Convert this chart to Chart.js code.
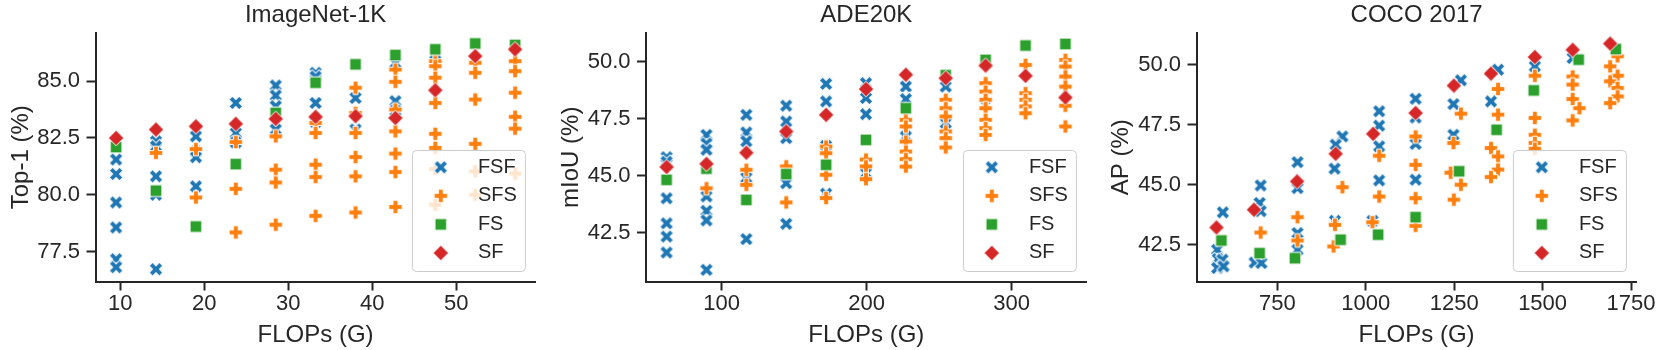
<!DOCTYPE html>
<html>
<head>
<meta charset="utf-8">
<script src="https://cdn.jsdelivr.net/npm/chart.js@4.4.0/dist/chart.umd.min.js"></script>
<style>
  html, body { margin: 0; padding: 0; background: #fff; }
  #wrap { position: relative; width: 1661px; height: 350px; }
  canvas { position: absolute; top: 0; }
</style>
</head>
<body>
<div id="wrap">
  <canvas id="c1" width="550" height="350" style="left:0px"></canvas>
  <canvas id="c2" width="550" height="350" style="left:550px"></canvas>
  <canvas id="c3" width="561" height="350" style="left:1100px"></canvas>
</div>
<script>
const series = ["FSF", "SFS", "FS", "SF"];
const colors = ["#1f77b4", "#ff7f0e", "#2ca02c", "#d62728"];

// ImageNet-1K: [FLOPs (G), Top-1 (%)]
const inetFSF = [
  [9.5, 81.55], [9.5, 80.91], [9.5, 79.66], [9.5, 78.56], [9.5, 77.16], [9.5, 76.81],
  [14.25, 82.35], [14.25, 82.13], [14.25, 80.81], [14.25, 80.0], [14.25, 76.72],
  [19, 82.57], [19, 81.9], [19, 81.65], [19, 80.37],
  [23.75, 84.04], [23.75, 82.72], [23.75, 82.3],
  [28.5, 84.81], [28.5, 84.37], [28.5, 83.9], [28.5, 82.87],
  [33.25, 85.37], [33.25, 85.2], [33.25, 84.04], [33.25, 83.2],
  [38, 84.26], [38, 82.87],
  [42.75, 85.8], [42.75, 84.12], [42.75, 83.7],
  [47.5, 85.9]
];
const inetSFS = [
  [14.25, 81.84],
  [19, 82.01], [19, 79.88],
  [23.75, 82.32], [23.75, 80.26], [23.75, 78.34],
  [28.5, 82.57], [28.5, 81.1], [28.5, 80.54], [28.5, 78.68],
  [33.25, 83.16], [33.25, 82.72], [33.25, 81.32], [33.25, 80.78], [33.25, 79.07],
  [38, 84.71], [38, 83.6], [38, 82.72], [38, 81.66], [38, 80.81], [38, 79.22],
  [42.75, 85.51], [42.75, 84.97], [42.75, 83.75], [42.75, 82.79], [42.75, 81.81], [42.75, 81.0], [42.75, 79.46],
  [47.5, 85.88], [47.5, 85.66], [47.5, 85.15], [47.5, 84.04], [47.5, 82.68], [47.5, 82.06], [47.5, 81.13], [47.5, 79.56],
  [52.25, 85.81], [52.25, 85.37], [52.25, 84.19], [52.25, 82.24], [52.25, 81.03], [52.25, 80.0],
  [57, 85.88], [57, 85.44], [57, 84.49], [57, 83.43], [57, 82.91], [57, 80.93]
];
const inetFS = [
  [9.5, 82.1], [14.25, 80.18], [19, 78.6], [23.75, 81.35], [28.5, 83.6], [33.25, 84.93],
  [38, 85.74], [42.75, 86.15], [47.5, 86.4], [52.25, 86.66], [57, 86.59]
];
const inetSF = [
  [9.5, 82.5], [14.25, 82.87], [19, 83.01], [23.75, 83.12], [28.5, 83.34], [33.25, 83.43],
  [38, 83.46], [42.75, 83.38], [47.5, 84.6], [52.25, 86.1], [57, 86.4]
];

// ADE20K: [FLOPs (G), mIoU (%)]
const adeFSF = [
  [62, 45.8], [62, 45.6], [62, 44.0], [62, 42.9], [62, 42.32], [62, 41.62],
  [89.5, 46.78], [89.5, 46.4], [89.5, 46.13], [89.5, 44.08], [89.5, 43.45], [89.5, 43.03], [89.5, 40.86],
  [117, 47.66], [117, 46.89], [117, 46.5], [117, 44.9], [117, 42.21],
  [144.5, 48.06], [144.5, 47.37], [144.5, 46.64], [144.5, 44.66], [144.5, 42.88],
  [172, 49.02], [172, 48.25], [172, 46.3], [172, 44.2],
  [199.5, 49.05], [199.5, 48.4], [199.5, 47.69], [199.5, 45.1],
  [227, 48.9], [227, 48.35], [227, 46.71],
  [254.5, 48.9], [254.5, 47.3],
  [282, 48.1]
];
const adeSFS = [
  [89.5, 44.44],
  [117, 45.25], [117, 44.59],
  [144.5, 45.4], [144.5, 43.82],
  [172, 46.27], [172, 45.98], [172, 45.03], [172, 44.01],
  [199.5, 45.7], [199.5, 45.4], [199.5, 44.84],
  [227, 47.44], [227, 47.15], [227, 46.49], [227, 46.05], [227, 45.72], [227, 45.39],
  [254.5, 48.32], [254.5, 47.95], [254.5, 47.59], [254.5, 46.93], [254.5, 46.64], [254.5, 46.23],
  [282, 49.05], [282, 48.68], [282, 48.32], [282, 47.95], [282, 47.44], [282, 47.08], [282, 46.78],
  [309.5, 49.85], [309.5, 48.61], [309.5, 48.32], [309.5, 48.03], [309.5, 47.73],
  [337, 50.07], [337, 49.78], [337, 49.34], [337, 48.9], [337, 48.06], [337, 47.15]
];
const adeFS = [
  [62, 44.81], [89.5, 45.3], [117, 43.93], [144.5, 45.06], [172, 45.47], [199.5, 46.56],
  [227, 47.95], [254.5, 49.4], [282, 50.07], [309.5, 50.7], [337, 50.77]
];
const adeSF = [
  [62, 45.37], [89.5, 45.51], [117, 46.0], [144.5, 46.93], [172, 47.66], [199.5, 48.79],
  [227, 49.42], [254.5, 49.27], [282, 49.82], [309.5, 49.37], [337, 48.42]
];

// COCO 2017: [FLOPs (G), AP (%)]
const cocoFSF = [
  [596, 43.85], [580, 42.29], [582, 41.9], [595, 41.88], [580, 41.53], [598, 41.6],
  [703, 44.97], [700, 44.24], [703, 43.9], [686, 41.76], [705, 41.74],
  [807, 45.94], [807, 44.86], [807, 42.99], [807, 42.29],
  [934, 47.01], [915, 46.67], [912, 45.67], [913, 43.5],
  [1038, 48.06], [1038, 47.46], [1038, 46.6], [1038, 45.18], [1019, 43.5],
  [1141, 48.58], [1141, 47.8], [1141, 46.7], [1141, 45.21],
  [1269, 49.35], [1248, 48.36], [1248, 47.08],
  [1374, 49.79], [1354, 48.47],
  [1478, 49.93],
  [1585, 50.28]
];
const cocoSFS = [
  [703, 43.01],
  [807, 43.65], [807, 42.68],
  [934, 44.9], [913, 43.33], [909, 42.43],
  [1038, 46.21], [1038, 44.51], [1019, 43.44],
  [1141, 47.01], [1141, 45.83], [1141, 44.44], [1141, 43.29],
  [1269, 47.96], [1248, 46.74], [1240, 45.5], [1269, 45.0], [1249, 44.38],
  [1374, 48.99], [1374, 47.92], [1354, 46.53], [1374, 46.18], [1374, 45.63], [1354, 45.32],
  [1478, 49.54], [1478, 47.78], [1478, 47.08], [1478, 46.74], [1478, 46.5],
  [1585, 49.51], [1585, 49.17], [1585, 48.57], [1604, 48.19], [1585, 47.68],
  [1712, 50.35], [1691, 49.93], [1712, 49.54], [1691, 49.31], [1712, 49.03], [1712, 48.68], [1691, 48.4]
];
const cocoFS = [
  [592, 42.68], [700, 42.15], [800, 41.94], [929, 42.71], [1035, 42.92], [1141, 43.65],
  [1264, 45.56], [1370, 47.29], [1475, 48.93], [1602, 50.21], [1707, 50.65]
];
const cocoSF = [
  [578, 43.22], [684, 43.96], [806, 45.14], [915, 46.29], [1021, 47.12], [1141, 47.99],
  [1249, 49.13], [1354, 49.63], [1478, 50.32], [1585, 50.62], [1691, 50.88]
];

// tick labels
const inetXTicks = [10, 20, 30, 40, 50];
const inetYTicks = [77.5, 80.0, 82.5, 85.0];
const adeXTicks = [100, 200, 300];
const adeYTicks = [42.5, 45.0, 47.5, 50.0];
const cocoXTicks = [750, 1000, 1250, 1500, 1750];
const cocoYTicks = [42.5, 45.0, 47.5, 50.0];

const FONT = "'Liberation Sans', Arial, sans-serif";
const INK = "#262626";

// filled marker shapes with a white edge, like seaborn's X / P / s / D
function makeMarker(shape, color) {
  const c = document.createElement("canvas");
  c.width = 20;
  c.height = 20;
  const g = c.getContext("2d");
  g.translate(10, 10);
  g.beginPath();
  if (shape === "x" || shape === "plus") {
    const a = shape === "x" ? 7.3 : 6.8;
    const t = shape === "x" ? 2.45 : 2.4;
    if (shape === "x") g.rotate(Math.PI / 4);
    g.moveTo(-t, -a); g.lineTo(t, -a); g.lineTo(t, -t); g.lineTo(a, -t);
    g.lineTo(a, t); g.lineTo(t, t); g.lineTo(t, a); g.lineTo(-t, a);
    g.lineTo(-t, t); g.lineTo(-a, t); g.lineTo(-a, -t); g.lineTo(-t, -t);
    g.closePath();
  } else if (shape === "square") {
    g.rect(-5.9, -5.9, 11.8, 11.8);
  } else {
    g.moveTo(0, -7.7); g.lineTo(7.7, 0); g.lineTo(0, 7.7); g.lineTo(-7.7, 0);
    g.closePath();
  }
  g.fillStyle = color;
  g.fill();
  g.lineWidth = 1;
  g.strokeStyle = "#ffffff";
  g.stroke();
  return c;
}
const markers = [
  makeMarker("x", colors[0]),
  makeMarker("plus", colors[1]),
  makeMarker("square", colors[2]),
  makeMarker("diamond", colors[3])
];

// title above the plot area and the legend box inside it (lower right)
const panelDecor = {
  id: "panelDecor",
  afterDatasetsDraw(chart) {
    const { ctx, chartArea: a } = chart;
    const w = 113, h = 121;
    const x0 = a.right - 10.3 - w, y0 = a.bottom - 10 - h;
    ctx.save();
    ctx.beginPath();
    ctx.roundRect(x0, y0, w, h, 4);
    ctx.fillStyle = "rgba(255,255,255,0.8)";
    ctx.fill();
    ctx.lineWidth = 1;
    ctx.strokeStyle = "#cccccc";
    ctx.stroke();
    ctx.font = "20px " + FONT;
    ctx.fillStyle = INK;
    ctx.textBaseline = "middle";
    ctx.textAlign = "left";
    chart.data.datasets.forEach((ds, i) => {
      const ry = y0 + 16.8 + i * 28.55;
      const m = markers[i];
      ctx.drawImage(m, x0 + 28.4 - m.width / 2, ry - m.height / 2);
      ctx.fillText(ds.label, x0 + 65.5, ry);
    });
    ctx.restore();
  },
  afterDraw(chart, args, opts) {
    const { ctx, chartArea: a } = chart;
    ctx.save();
    ctx.font = "24px " + FONT;
    ctx.fillStyle = INK;
    ctx.textAlign = "center";
    ctx.textBaseline = "middle";
    ctx.fillText(opts.title, (a.left + a.right) / 2, 15.7);
    ctx.restore();
  }
};

function makePanel(id, cfg) {
  new Chart(document.getElementById(id), {
    type: "scatter",
    data: {
      datasets: series.map((name, i) => ({
        label: name,
        data: cfg.points[i].map((p) => ({ x: p[0], y: p[1] })),
        pointStyle: markers[i],
        pointRadius: 6,
        order: 4 - i
      }))
    },
    options: {
      responsive: false,
      animation: false,
      events: [],
      layout: { padding: { top: 33, right: cfg.padRight, bottom: 0, left: 0 } },
      plugins: {
        legend: { display: false },
        tooltip: { enabled: false },
        panelDecor: { title: cfg.title }
      },
      scales: {
        x: {
          type: "linear",
          min: cfg.xMin,
          max: cfg.xMax,
          afterBuildTicks: (s) => { s.ticks = cfg.xTicks.map((v) => ({ value: v })); },
          afterFit: (s) => { s.height = 68.5; },
          border: { display: true, color: INK, width: 2 },
          grid: { display: true, drawOnChartArea: false, drawTicks: true, tickLength: 9, tickWidth: 2, tickColor: INK },
          ticks: { color: INK, font: { family: FONT, size: 22 }, padding: 0, maxRotation: 0, minRotation: 0, autoSkip: false, callback: (v) => String(v) },
          title: { display: true, text: "FLOPs (G)", color: INK, font: { family: FONT, size: 24 }, padding: { top: 0, bottom: 0.6 } }
        },
        y: {
          type: "linear",
          min: cfg.yMin,
          max: cfg.yMax,
          afterBuildTicks: (s) => { s.ticks = cfg.yTicks.map((v) => ({ value: v })); },
          afterFit: (s) => { s.width = cfg.yWidth; },
          border: { display: true, color: INK, width: 2 },
          grid: { display: true, drawOnChartArea: false, drawTicks: true, tickLength: 9, tickWidth: 2, tickColor: INK },
          ticks: { color: INK, font: { family: FONT, size: 22 }, padding: 6.5, autoSkip: false, callback: (v) => v.toFixed(1) },
          title: { display: true, text: cfg.yLabel, color: INK, font: { family: FONT, size: 24 }, padding: { top: 6.6, bottom: 0 } }
        }
      }
    },
    plugins: [panelDecor]
  });
}

makePanel("c1", {
  title: "ImageNet-1K", yLabel: "Top-1 (%)",
  points: [inetFSF, inetSFS, inetFS, inetSF],
  xMin: 7.05, xMax: 59.45, yMin: 76.18, yMax: 87.12,
  xTicks: inetXTicks, yTicks: inetYTicks,
  yWidth: 95.5, padRight: 14.3
});
makePanel("c2", {
  title: "ADE20K", yLabel: "mIoU (%)",
  points: [adeFSF, adeSFS, adeFS, adeSF],
  xMin: 47.8, xMax: 351.7, yMin: 40.35, yMax: 51.25,
  xTicks: adeXTicks, yTicks: adeYTicks,
  yWidth: 96, padRight: 13.3
});
makePanel("c3", {
  title: "COCO 2017", yLabel: "AP (%)",
  points: [cocoFSF, cocoSFS, cocoFS, cocoSF],
  xMin: 521.6, xMax: 1766, yMin: 40.97, yMax: 51.32,
  xTicks: cocoXTicks, yTicks: cocoYTicks,
  yWidth: 96.5, padRight: 24.3
});
</script>
</body>
</html>
